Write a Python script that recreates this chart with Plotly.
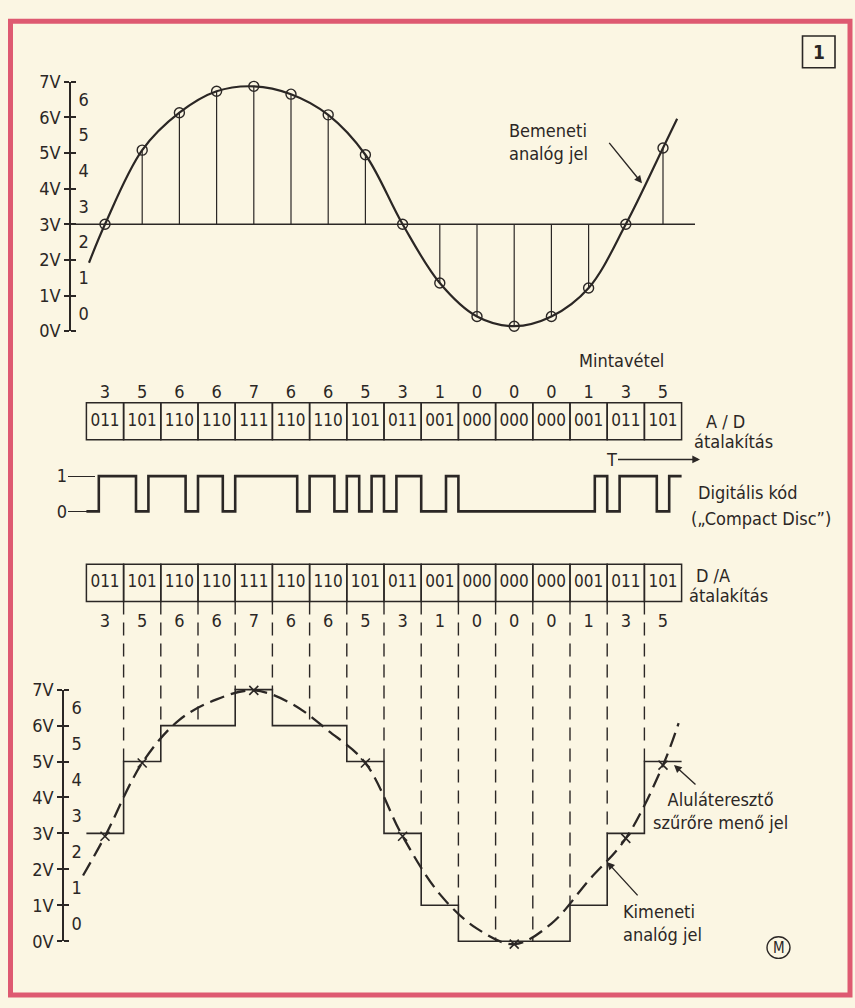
import plotly.graph_objects as go

# ---------------------------------------------------------------- data
sample_idx = list(range(16))

# sampled input analog signal (volts)
input_samples = [3.0, 5.08, 6.13, 6.73, 6.87, 6.65, 6.07, 4.95,
                 3.0, 1.35, 0.41, 0.14, 0.41, 1.21, 3.0, 5.14]
# the drawn input curve runs a little past the first and last sample
input_curve_x = [-0.43] + sample_idx + [15.38]
input_curve_v = [1.92] + input_samples + [5.96]
baseline_v = 3

# quantised sample values and their 3-bit codes
levels = [3, 5, 6, 6, 7, 6, 6, 5, 3, 1, 0, 0, 0, 1, 3, 5]
codes = [format(n, "03b") for n in levels]
bits = [int(b) for c in codes for b in c]

# reconstructed output curve after the low-pass filter
output_curve_x = [-0.59] + sample_idx + [15.42]
output_curve_v = [1.83, 2.92, 4.96, 6.16, 6.73, 6.98, 6.62, 5.86, 4.96,
                  2.92, 1.31, 0.35, -0.08, 0.49, 1.69, 2.86, 4.90, 6.07]
output_marked = [0, 1, 4, 7, 8, 11, 14, 15]

volt_ticks = list(range(8))
volt_labels = [f"{v}V" for v in volt_ticks]
level_ticks = [v + 0.5 for v in range(7)]
level_labels = [str(v) for v in range(7)]
bit_ticks = [0, 1]
bit_labels = ["0", "1"]

# ---------------------------------------------------------------- style
W, H = 855, 1008
X0, DX = 105.0, 37.2          # page x of sample 0, spacing of samples
INK = "#2b2725"
BG = "#fbf6e3"
RED = "#de5a71"
FONT = "Liberation Sans Narrow, DejaVu Sans Condensed, DejaVu Sans, sans-serif"


def sx(p):
    """page pixel x -> sample-index units"""
    return (p - X0) / DX


def py(p):
    return 1 - p / H


def px(p):
    return p / W


def band(zero_px, ppu, top_px, bot_px):
    """domain/range of a y axis whose value 0 sits at zero_px"""
    return dict(domain=[py(bot_px), py(top_px)],
                range=[(zero_px - bot_px) / ppu, (zero_px - top_px) / ppu])


TOP_ZERO, TOP_PPV, TOP_AXIS = 327.0, 36.4, 70
BOT_ZERO, BOT_PPV, BOT_AXIS = 950.0, 36.7, 63
AD_BOT, DA_BOT, BOX_H = 438.0, 603.0, 38.0
DIG_ZERO, DIG_PPU = 511.0, 36.0

fig = go.Figure()


def add(tr, yaxis):
    tr.update(xaxis="x", yaxis=yaxis, showlegend=False, hoverinfo="skip")
    fig.add_trace(tr)


# ---------------------------------------------------------------- input signal
stem_x, stem_y = [], []
for i, v in zip(sample_idx, input_samples):
    stem_x += [i, i, None]
    stem_y += [baseline_v, v, None]
add(go.Scatter(x=stem_x, y=stem_y, mode="lines",
               line=dict(color=INK, width=1.2)), "y")
add(go.Scatter(x=[sx(TOP_AXIS), sx(695)], y=[baseline_v, baseline_v],
               mode="lines", line=dict(color=INK, width=1.4)), "y")
add(go.Scatter(x=input_curve_x, y=input_curve_v, mode="lines",
               line=dict(color=INK, width=2.2, shape="spline", smoothing=1.0)), "y")
add(go.Scatter(x=sample_idx, y=input_samples, mode="markers",
               marker=dict(symbol="circle-open", size=10, color=INK,
                           line=dict(width=1.4)), cliponaxis=False), "y")

# ---------------------------------------------------------------- A/D code row
add(go.Bar(x=sample_idx, y=[1] * 16, base=0, width=1,
           marker=dict(color="rgba(0,0,0,0)", line=dict(color=INK, width=1.5))), "y5")
add(go.Scatter(x=sample_idx, y=[0.5] * 16, mode="text", text=codes,
               textfont=dict(family=FONT, size=17, color=INK)), "y5")
add(go.Scatter(x=sample_idx, y=[(AD_BOT - 391) / BOX_H] * 16, mode="text",
               text=[str(v) for v in levels],
               textfont=dict(family=FONT, size=18, color=INK)), "y5")

# ---------------------------------------------------------------- serial bit stream
bit_x = [-0.5 + k / 3 for k in range(len(bits) + 1)]
bit_y = bits + [bits[-1]]
add(go.Scatter(x=bit_x, y=bit_y, mode="lines",
               line=dict(color=INK, width=2.6, shape="hv")), "y6")

# ---------------------------------------------------------------- D/A code row
add(go.Bar(x=sample_idx, y=[1] * 16, base=0, width=1,
           marker=dict(color="rgba(0,0,0,0)", line=dict(color=INK, width=1.5))), "y7")
add(go.Scatter(x=sample_idx, y=[0.5] * 16, mode="text", text=codes,
               textfont=dict(family=FONT, size=17, color=INK)), "y7")
add(go.Scatter(x=sample_idx, y=[(DA_BOT - 625) / BOX_H] * 16, mode="text",
               text=[str(v) for v in levels],
               textfont=dict(family=FONT, size=18, color=INK)), "y7")

# ---------------------------------------------------------------- output signal
top_v = (BOT_ZERO - DA_BOT) / BOT_PPV
dash_x, dash_y = [], []
for j in range(1, len(levels)):
    dash_x += [j - 0.5, j - 0.5, None]
    dash_y += [top_v, max(levels[j - 1], levels[j]), None]
add(go.Scatter(x=dash_x, y=dash_y, mode="lines",
               line=dict(color=INK, width=1.4, dash="13px,8px")), "y8")
add(go.Scatter(x=[i - 0.5 for i in sample_idx] + [sample_idx[-1] + 0.5],
               y=levels + [levels[-1]], mode="lines",
               line=dict(color=INK, width=1.6, shape="hv")), "y8")
add(go.Scatter(x=output_curve_x, y=output_curve_v, mode="lines",
               line=dict(color=INK, width=2.3, dash="15px,7px",
                         shape="spline", smoothing=1.0)), "y8")
add(go.Scatter(x=output_marked,
               y=[output_curve_v[i + 1] for i in output_marked],
               mode="markers", cliponaxis=False,
               marker=dict(symbol="x-thin-open", size=9, color=INK,
                           line=dict(width=1.6, color=INK))), "y8")

# empty traces so that the stand-alone voltage scales are drawn
for ax in ["y2", "y3", "y4", "y9", "y10", "y11"]:
    add(go.Scatter(x=[None], y=[None], mode="lines"), ax)

# ---------------------------------------------------------------- axes
tickfont = dict(family=FONT, size=18, color=INK)
hidden = dict(visible=False, showgrid=False, zeroline=False, fixedrange=True)
layout_axes = dict(
    xaxis=dict(hidden, domain=[0, 1], range=[sx(0), sx(W)], anchor="y"),
    yaxis=dict(hidden, anchor="x", **band(TOP_ZERO, TOP_PPV, 45, 345)),
    yaxis5=dict(hidden, anchor="x", **band(AD_BOT, BOX_H, 368, 446)),
    yaxis7=dict(hidden, anchor="x", **band(DA_BOT, BOX_H, 555, 642)),
    yaxis8=dict(hidden, anchor="x", **band(BOT_ZERO, BOT_PPV, DA_BOT, 975)),
    yaxis6=dict(anchor="free", position=px(67), side="left", showline=False,
                showgrid=False, zeroline=False, fixedrange=True,
                ticks="inside", ticklen=27, tickwidth=1.3, tickcolor=INK,
                tickvals=bit_ticks, ticktext=bit_labels, tickfont=tickfont,
                **band(DIG_ZERO, DIG_PPU, 458, 530)),
)


def volt_scale(first, zero_px, ppv, axis_px):
    dom = [py(zero_px), py(zero_px - 7 * ppv)]
    common = dict(domain=dom, range=[0, 7], anchor="free",
                  position=px(axis_px), showgrid=False, zeroline=False,
                  fixedrange=True, tickfont=tickfont)
    base = dict(common, side="left", showline=True, linecolor=INK,
                linewidth=1.7, ticks="outside", ticklen=5, tickwidth=1.7,
                tickcolor=INK, tickvals=volt_ticks, ticktext=volt_labels)
    right_ticks = dict(common, side="right", overlaying=f"y{first}",
                       showline=False, ticks="outside", ticklen=5,
                       tickwidth=1.7, tickcolor=INK, tickvals=volt_ticks,
                       showticklabels=False)
    inner = dict(common, side="right", overlaying=f"y{first}",
                 showline=False, ticks="outside", ticklen=4,
                 tickcolor="rgba(0,0,0,0)", tickvals=level_ticks,
                 ticktext=level_labels)
    return {f"yaxis{first}": base, f"yaxis{first + 1}": right_ticks,
            f"yaxis{first + 2}": inner}


layout_axes.update(volt_scale(2, TOP_ZERO, TOP_PPV, TOP_AXIS))
layout_axes.update(volt_scale(9, BOT_ZERO, BOT_PPV, BOT_AXIS))

# ---------------------------------------------------------------- labels
def label(text, x_px, y_px, size=18, xanchor="left", align="left"):
    return dict(text=text, x=px(x_px), y=py(y_px), xref="paper", yref="paper",
                xanchor=xanchor, yanchor="middle", align=align, showarrow=False,
                font=dict(family=FONT, size=size, color=INK))


def leader(head, tail, text="", head_style=2):
    return dict(text=text, x=px(head[0]), y=py(head[1]), xref="paper",
                yref="paper", ax=tail[0] - head[0], ay=tail[1] - head[1],
                axref="pixel", ayref="pixel", showarrow=True,
                arrowhead=head_style, arrowsize=1.1, arrowwidth=1.4,
                arrowcolor=INK, font=dict(family=FONT, size=18, color=INK))


annotations = [
    label("Bemeneti<br>analóg jel", 507, 133.5),
    leader((642, 176), (608, 134)),
    label("Mintavétel", 621, 357, xanchor="center"),
    label("A / D", 704, 419),
    label("átalakítás", 692, 440),
    leader((700, 458), (611, 458), text="T"),
    label("Digitális kód", 696, 492),
    label("(„Compact Disc”)", 689, 518),
    label("D /A", 694, 577),
    label("átalakítás", 687, 597),
    label("Aluláteresztő<br>szűrőre menő jel", 720, 817, xanchor="center",
          align="center"),
    leader((674, 770), (697, 791)),
    label("Kimeneti<br>analóg jel", 621, 931),
    leader((607, 869), (639, 904)),
    label("<b>1</b>", 818.5, 42, size=19, xanchor="center", align="center"),
    label("M", 778.5, 956.5, size=15, xanchor="center", align="center"),
]

shapes = [
    dict(type="rect", xref="paper", yref="paper", x0=px(10.5), x1=px(850),
         y0=py(1005), y1=py(10.5), line=dict(color=RED, width=5)),
    dict(type="rect", xref="paper", yref="paper", x0=px(802.5), x1=px(835),
         y0=py(58), y1=py(25.5), line=dict(color=INK, width=1.6)),
    dict(type="circle", xref="paper", yref="paper", x0=px(767), x1=px(790),
         y0=py(967.5), y1=py(945.5), line=dict(color=INK, width=1.4)),
]

fig.update_layout(
    width=W, height=H, margin=dict(l=0, r=0, t=0, b=0),
    paper_bgcolor=BG, plot_bgcolor="rgba(0,0,0,0)",
    showlegend=False, hovermode=False, barmode="overlay",
    font=dict(family=FONT, color=INK),
    annotations=annotations, shapes=shapes,
    **layout_axes,
)

fig.write_html("out.html", config={"displayModeBar": False})
